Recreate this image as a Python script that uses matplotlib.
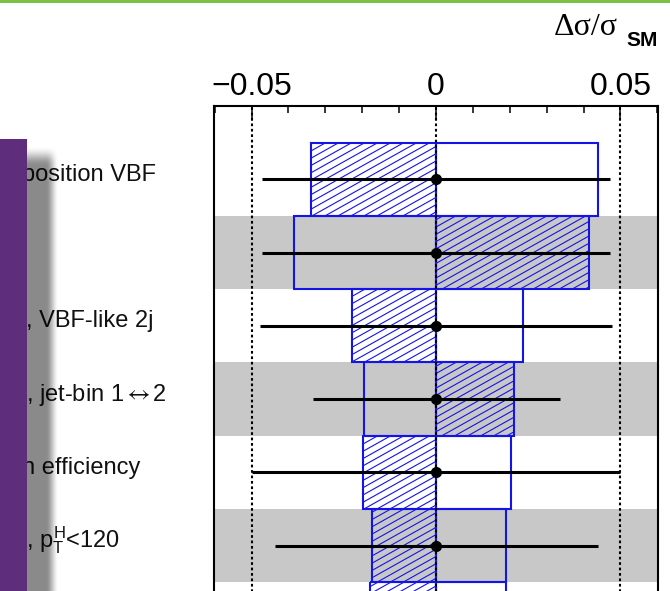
import numpy as np
from matplotlib import pyplot as plt
from matplotlib.patches import Rectangle
from matplotlib.collections import LineCollection
from matplotlib.transforms import IdentityTransform, blended_transform_factory
from matplotlib.ticker import MultipleLocator

plt.rcParams['font.family'] = ['Liberation Sans', 'DejaVu Sans']
plt.rcParams['mathtext.fontset'] = 'custom'
plt.rcParams['mathtext.rm'] = 'Liberation Sans'
plt.rcParams['mathtext.it'] = 'Liberation Sans'
plt.rcParams['mathtext.bf'] = 'Liberation Sans:bold'
plt.rcParams['mathtext.sf'] = 'STIXGeneral'

# nuisance parameters, top to bottom (start of names sits under the side panel)
labels = ['position VBF', '', ', VBF-like 2j', r', jet-bin 1$\mathsf{\leftrightarrow}$2',
          'n efficiency', ', $p_{T}^{H}$<120', '']
# impact on the cross section of the +1 sigma (open) and -1 sigma (hatched) shifts
shift_up = [0.0439, -0.0385, 0.0236, -0.0195, 0.0203, 0.0190, 0.0190]
shift_dn = [-0.0339, 0.0415, -0.0228, 0.0211, -0.0198, -0.0173, -0.0180]
# pulls with their constraints
pull = [0, 0, 0, 0, 0, 0]
err_lo = [0.0472, 0.0472, 0.0476, 0.0334, 0.0498, 0.0436]
err_hi = [0.0472, 0.0472, 0.0477, 0.0336, 0.0499, 0.0440]

xticks = [-0.05, 0, 0.05]
xticklabels = ['\u22120.05', '0', '0.05']

blue = '#1414e6'
band = '#c8c8c8'

W, H = 670, 591
fig = plt.figure(figsize=(W / 100, H / 100), dpi=100)
ax = fig.add_axes([214 / W, 1 - 655.5 / H, 444 / W, 549.5 / H])
ax.set_xlim(-0.0602, 0.0602)
ax.set_ylim(7.5, 0)

rows = np.arange(1, len(shift_up) + 1)

# alternating grey bands
for y in rows:
    if y % 2 == 0:
        ax.axhspan(y - 0.5, y + 0.5, color=band, lw=0, zorder=0)

ax.axvline(-0.05, color='k', lw=1.5, ls=(0, (1.3, 1.3)), zorder=1)
ax.axvline(0.05, color='k', lw=1.5, ls=(0, (1.3, 1.3)), zorder=1)


def hatch(ax, rect, step=13, slope=0.56):
    # diagonal hatching drawn in pixel space and clipped to the box
    bb = rect.get_window_extent()
    run = (bb.y1 - bb.y0) / slope
    starts = np.arange(np.floor((bb.x0 - run) / step) * step, bb.x1 + step, step)
    segs = [[(s, bb.y0), (s + run, bb.y1)] for s in starts]
    lc = LineCollection(segs, colors=blue, linewidths=0.8,
                        transform=IdentityTransform(), zorder=2.5)
    ax.add_collection(lc, autolim=False)
    lc.set_clip_path(rect)


for y, up, dn in zip(rows, shift_up, shift_dn):
    r_up = Rectangle((min(0, up), y - 0.5), abs(up), 1.0, fill=False,
                     ec=blue, lw=1.5, zorder=3)
    r_dn = Rectangle((min(0, dn), y - 0.5), abs(dn), 1.0, fill=False,
                     ec=blue, lw=1.5, zorder=3)
    ax.add_patch(r_up)
    ax.add_patch(r_dn)
    hatch(ax, r_dn)

ax.axvline(0, color='k', lw=1.5, ls=(0, (1.3, 1.3)), zorder=4)

ax.errorbar(pull, rows[:len(pull)], xerr=[err_lo, err_hi], fmt='o', color='k',
            ms=7, lw=2.2, capsize=0, zorder=6)

# axis on top only
ax.xaxis.tick_top()
ax.set_xticks(xticks)
ax.set_xticklabels(xticklabels)
ax.xaxis.set_minor_locator(MultipleLocator(0.01))
ax.tick_params(axis='x', which='both', direction='in', top=True, bottom=False,
               labeltop=True, labelbottom=False, labelsize=23, pad=3, width=1.1)
ax.tick_params(axis='x', which='major', length=9.5)
ax.tick_params(axis='x', which='minor', length=5)
ax.set_yticks([])
for s in ['top', 'left', 'right']:
    ax.spines[s].set_linewidth(1.5)
ax.spines['bottom'].set_visible(False)

trans = blended_transform_factory(fig.transFigure, ax.transData)
for y, lab in zip(rows, labels):
    x0 = 26 if lab.startswith(',') else 22
    ax.text(x0 / W, y + 0.02, lab, transform=trans, ha='left', va='baseline',
            fontsize=17, color='#111111', clip_on=False)

fig.text(618 / W, 1 - 35 / H, '\u0394\u03c3/\u03c3', family='Liberation Serif',
         size=23, ha='right', va='baseline')
fig.text(658 / W, 1 - 46 / H, 'SM', weight='bold', size=15,
         ha='right', va='baseline')

# slide decoration: green rule, side panel and its shadow
over = fig.add_axes([0, 0, 1, 1], zorder=10)
over.set_xlim(0, W)
over.set_ylim(H, 0)
over.axis('off')
over.patch.set_alpha(0)
over.add_patch(Rectangle((0, 0), W, 2.5, color='#7cc143', lw=0))
over.add_patch(Rectangle((0, 139), 27, H - 139, color='#5e2e7d', lw=0))

sx = np.linspace(27, 60, 67)
sy = np.linspace(139, H, 200)
fx = np.clip((59 - sx) / 13, 0, 1)
fx = fx * fx * (3 - 2 * fx)
fy = np.clip((sy - 145) / 20, 0, 1)
fy = fy * fy * (3 - 2 * fy)
shade = np.zeros((len(sy), len(sx), 4))
shade[..., 3] = 0.46 * np.outer(fy, fx)
over.imshow(shade, extent=(27, 60, H, 139), origin='upper',
            interpolation='bilinear', aspect='auto', zorder=5)
over.set_xlim(0, W)
over.set_ylim(H, 0)

fig.savefig('out.png', dpi=100)
